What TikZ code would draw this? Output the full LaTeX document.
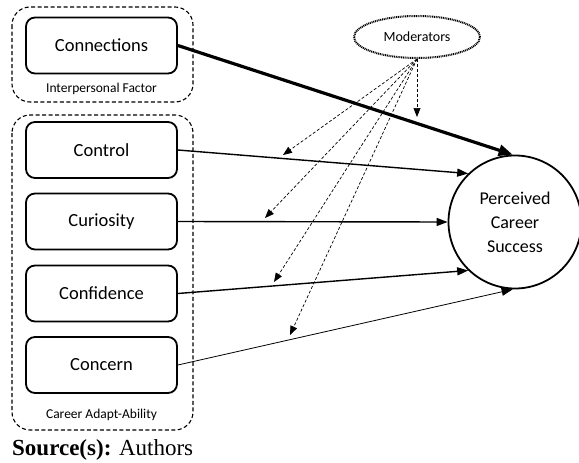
\documentclass[tikz,border=0pt]{standalone}
\usepackage{fontspec}
\setmainfont{Carlito}
\newfontfamily\srcfont{Liberation Serif}
\usetikzlibrary{shapes.geometric,arrows.meta}

\begin{document}
\begin{tikzpicture}[x=1pt,y=-1pt,
    factor/.style={draw,line width=1.8pt,rounded corners=9pt,minimum width=151pt,minimum height=56pt,font=\fontsize{18.5}{20}\selectfont},
    group/.style={draw,dash pattern=on 4pt off 2.5pt,line width=1.1pt,rounded corners=18pt},
    grouplabel/.style={font=\fontsize{13.5}{15}\selectfont},
    path/.style={-{Triangle[length=11pt,width=8pt]},line width=1.4pt},
    mod/.style={-{Triangle[length=9pt,width=7pt]},densely dashed,line width=0.7pt}]
			\useasboundingbox (0,0) rectangle (579,463);
			\draw[group] (12,7) rectangle (193,102);
			\draw[group] (12,115) rectangle (193,430);
			\node[factor] (connections) at (101.5,45.5) {Connections};
			\node[grouplabel] (ipf) at (101.5,89) {Interpersonal Factor};
			\foreach \y/\n/\t in {150/control/Control,221.5/curiosity/Curiosity,293.5/confidence/Confidence,365/concern/Concern}{
				\node[factor] (\n) at (101.5,\y) {\t};
			}
			\node[grouplabel] (caa) at (101.5,415) {Career Adapt-Ability};
			\node[circle,draw,line width=1.8pt,minimum size=133pt,align=center,font=\fontsize{18}{24}\selectfont] (pcs) at (515,222) {Perceived\\Career\\Success};
			\node[ellipse,draw,line width=2pt,dash pattern=on 1pt off 0.8pt,minimum width=126pt,minimum height=42pt,font=\fontsize{14}{16}\selectfont] (mods) at (417,37) {Moderators};
			% direct effects
			\draw[path,line width=3.2pt,-{Triangle[length=14pt,width=11pt]}] (connections.east) -- (pcs.92);
			\draw[path] (control.east) -- (pcs.134);
			\draw[path] (curiosity.east) -- (pcs.west);
			\draw[path] (confidence.east) -- (pcs.226);
			\draw[path,line width=0.8pt] (concern.east) -- (pcs.268);
			% moderating effects
			\coordinate (m1) at (283,155);
			\coordinate (m2) at (265,218);
			\coordinate (m3) at (274,282);
			\coordinate (m4) at (290,335);
			\coordinate (m5) at (417,117);
			\foreach \m in {m1,m2,m3,m4,m5}{
				\draw[mod] (mods.south) -- (\m);
			}
			\node[anchor=base west,inner sep=0pt,font=\srcfont\fontsize{23}{25}\selectfont] (src) at (12,455) {\textbf{Source(s):} Authors};
		\end{tikzpicture}
\end{document}
